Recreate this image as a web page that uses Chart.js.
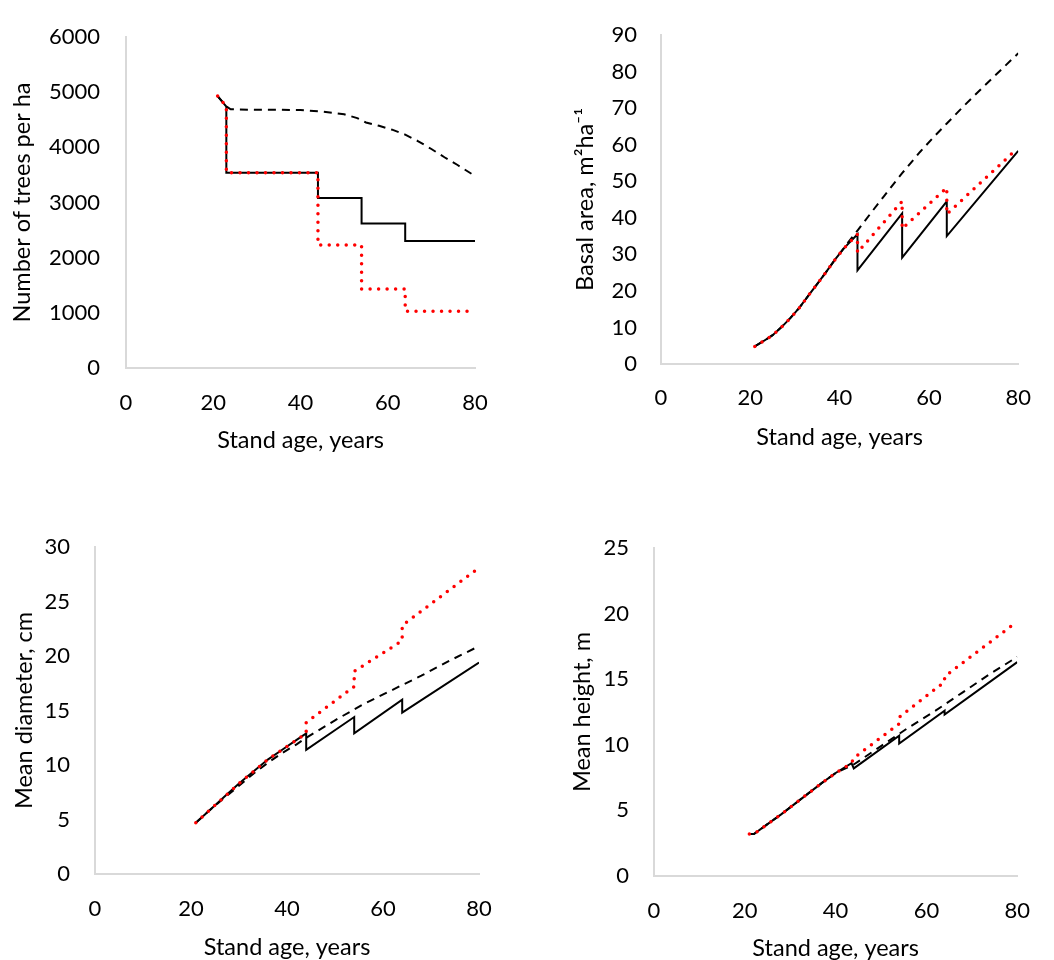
<!DOCTYPE html>
<html>
<head>
<meta charset="utf-8">
<script src="https://cdn.jsdelivr.net/npm/chart.js@4.4.0/dist/chart.umd.min.js"></script>
<style>
body { margin: 0; background: #fff; }
canvas { position: absolute; }
</style>
</head>
<body>
<canvas id="treesChart" width="527" height="480" style="left:0;top:0"></canvas>
<canvas id="basalChart" width="527" height="480" style="left:527px;top:0"></canvas>
<canvas id="diamChart" width="527" height="480" style="left:0;top:480px"></canvas>
<canvas id="heightChart" width="527" height="480" style="left:527px;top:480px"></canvas>
<script>

// number of trees per ha
const treesThinAge = [21, 23, 23, 44, 44, 54, 54, 64, 64, 80];
const treesThin = [4930, 4740, 3540, 3540, 3080, 3080, 2620, 2620, 2300, 2300];
const treesHeavyAge = [21, 23, 23, 44, 44, 54, 54, 64, 64, 79.5];
const treesHeavy = [4930, 4740, 3540, 3540, 2230, 2230, 1430, 1430, 1030, 1030];
const treesNoThinAge = [21, 23, 24, 30, 35, 40, 45, 50, 53, 55, 58, 61, 64, 67, 70, 73, 76, 80];
const treesNoThin = [4930, 4740, 4690, 4680, 4680, 4675, 4650, 4600, 4530, 4450, 4390, 4320, 4230, 4110, 3970, 3820, 3680, 3480];

// basal area
const basalThinAge = [21, 23, 25, 27, 29, 31, 33, 35, 37, 39, 41, 44, 44, 54, 54, 64, 64, 80];
const basalThin = [4.8, 6.3, 7.9, 10.1, 12.6, 15.4, 18.7, 21.9, 25.2, 28.6, 31.7, 35.5, 25.6, 41.2, 29.1, 44.5, 35.0, 58.3];
const basalHeavyAge = [21, 23, 25, 27, 29, 31, 33, 35, 37, 39, 41, 44, 44, 54, 54, 64, 64, 79.5];
const basalHeavy = [4.8, 6.3, 7.9, 10.1, 12.6, 15.4, 18.7, 21.9, 25.2, 28.6, 31.7, 35.5, 30.5, 44.5, 37.0, 48.2, 41.0, 58.6];
const basalNoThinAge = [21, 23, 25, 27, 29, 31, 33, 35, 37, 39, 42, 44, 47, 50, 54, 58, 61, 64, 68, 72, 76, 80];
const basalNoThin = [4.8, 6.3, 7.9, 10.1, 12.6, 15.4, 18.7, 21.9, 25.2, 28.6, 33.4, 36.5, 41.3, 46.0, 52.2, 58.0, 62.0, 65.8, 70.8, 75.6, 80.3, 85.0];

// mean diameter
const diamThinAge = [21, 24, 27, 30, 33, 36, 39, 42, 44, 44, 54, 54, 64, 64, 80];
const diamThin = [4.7, 5.9, 7.1, 8.3, 9.4, 10.5, 11.4, 12.3, 12.9, 11.4, 14.4, 12.9, 16.0, 14.8, 19.4];
const diamHeavyAge = [21, 24, 27, 30, 33, 36, 39, 42, 44, 44, 54, 54, 64, 64, 80];
const diamHeavy = [4.7, 5.9, 7.1, 8.3, 9.4, 10.5, 11.4, 12.3, 12.9, 13.9, 17.2, 18.6, 21.4, 22.8, 28.1];
const diamNoThinAge = [21, 24, 27, 30, 33, 36, 39, 42, 44, 50, 56, 62, 68, 74, 80];
const diamNoThin = [4.7, 5.9, 7.0, 8.1, 9.2, 10.2, 11.1, 11.9, 12.5, 14.1, 15.6, 16.9, 18.2, 19.6, 20.9];

// mean height
const heightThinAge = [21, 22, 25, 28, 31, 34, 37, 40, 43.5, 44, 54, 54, 64, 64, 80];
const heightThin = [3.2, 3.2, 3.95, 4.7, 5.5, 6.3, 7.1, 7.85, 8.6, 8.2, 10.7, 10.1, 12.6, 12.3, 16.3];
const heightHeavyAge = [21, 22, 25, 28, 31, 34, 37, 40, 43.5, 44, 54, 54, 64, 64, 80];
const heightHeavy = [3.2, 3.2, 3.95, 4.7, 5.5, 6.3, 7.1, 7.85, 8.6, 9.0, 11.6, 12.1, 14.8, 15.2, 19.4];
const heightNoThinAge = [21, 22, 25, 28, 31, 34, 37, 40, 44, 50, 56, 62, 68, 74, 80];
const heightNoThin = [3.2, 3.2, 3.95, 4.7, 5.5, 6.3, 7.1, 7.85, 8.5, 9.9, 11.3, 12.6, 14.0, 15.4, 16.7];

Chart.defaults.font.family = 'Lato, Carlito, sans-serif';
Chart.defaults.color = '#000';

function pts(ages, vals) {
    return ages.map((a, i) => ({x: a, y: vals[i]}));
}

function makePanel(id, p) {
    const ctx = document.getElementById(id).getContext('2d');
    return new Chart(ctx, {
        type: 'line',
        data: {
            datasets: [
                {
                    data: pts(p.heavyAge, p.heavy),
                    borderColor: '#ff0000',
                    borderWidth: 3.5,
                    borderDash: [0, 8.5],
                    borderCapStyle: 'round'
                },
                {
                    data: pts(p.thinAge, p.thin),
                    borderColor: '#000',
                    borderWidth: 2
                },
                {
                    data: pts(p.noThinAge, p.noThin),
                    borderColor: '#000',
                    borderWidth: 2,
                    borderDash: [8, 6]
                }
            ]
        },
        options: {
            responsive: false,
            animation: false,
            devicePixelRatio: 1,
            elements: {
                point: { radius: 0 },
                line: { tension: 0, fill: false }
            },
            layout: { padding: { top: p.top, right: p.right, left: 0, bottom: 0 } },
            plugins: { legend: { display: false }, tooltip: { enabled: false } },
            scales: {
                x: {
                    type: 'linear',
                    min: 0,
                    max: 80,
                    grid: { display: false, drawTicks: false },
                    border: { display: true, color: '#d9d9d9', width: 2 },
                    ticks: { stepSize: 20, padding: p.xTickPad, maxRotation: 0, font: { size: 22, lineHeight: 1 },
                             callback: (v) => String(v) },
                    title: { display: true, text: 'Stand age, years', font: { size: 23.5, lineHeight: 1 }, padding: { top: 0, bottom: p.xTitlePad } },
                    afterFit: (s) => { s.height = p.xHeight; }
                },
                y: {
                    min: 0,
                    max: p.yMax,
                    grid: { display: false, drawTicks: false },
                    border: { display: true, color: '#d9d9d9', width: 2 },
                    ticks: { stepSize: p.yStep, padding: p.yTickPad, font: { size: 22, lineHeight: 1 },
                             callback: (v) => String(v) },
                    title: { display: true, text: p.yTitle, font: { size: 23.5, lineHeight: 1 }, padding: { top: p.yTitlePad, bottom: 0 } },
                    afterFit: (s) => { s.width = p.yWidth; }
                }
            }
        }
    });
}

makePanel('treesChart', {
    thinAge: treesThinAge, thin: treesThin,
    heavyAge: treesHeavyAge, heavy: treesHeavy,
    noThinAge: treesNoThinAge, noThin: treesNoThin,
    yMax: 6000, yStep: 1000, yTitle: 'Number of trees per ha',
    top: 20, right: 52, yWidth: 126, xHeight: 112,
    yTickPad: 26, yTitlePad: 11, xTickPad: 24, xTitlePad: 28
});

makePanel('basalChart', {
    thinAge: basalThinAge, thin: basalThin,
    heavyAge: basalHeavyAge, heavy: basalHeavy,
    noThinAge: basalNoThinAge, noThin: basalNoThin,
    yMax: 90, yStep: 10, yTitle: 'Basal area, m\u00b2ha\u207b\u00b9',
    top: 22, right: 21, yWidth: 134, xHeight: 116,
    yTickPad: 24, yTitlePad: 47, xTickPad: 23, xTitlePad: 31
});

makePanel('diamChart', {
    thinAge: diamThinAge, thin: diamThin,
    heavyAge: diamHeavyAge, heavy: diamHeavy,
    noThinAge: diamNoThinAge, noThin: diamNoThin,
    yMax: 30, yStep: 5, yTitle: 'Mean diameter, cm',
    top: 67, right: 48, yWidth: 95, xHeight: 86,
    yTickPad: 25, yTitlePad: 13, xTickPad: 24, xTitlePad: 1
});

makePanel('heightChart', {
    thinAge: heightThinAge, thin: heightThin,
    heavyAge: heightHeavyAge, heavy: heightHeavy,
    noThinAge: heightNoThinAge, noThin: heightNoThin,
    yMax: 25, yStep: 5, yTitle: 'Mean height, m',
    top: 68, right: 18, yWidth: 127, xHeight: 84,
    yTickPad: 25, yTitlePad: 44, xTickPad: 24, xTitlePad: 0
});

</script>
</body>
</html>
